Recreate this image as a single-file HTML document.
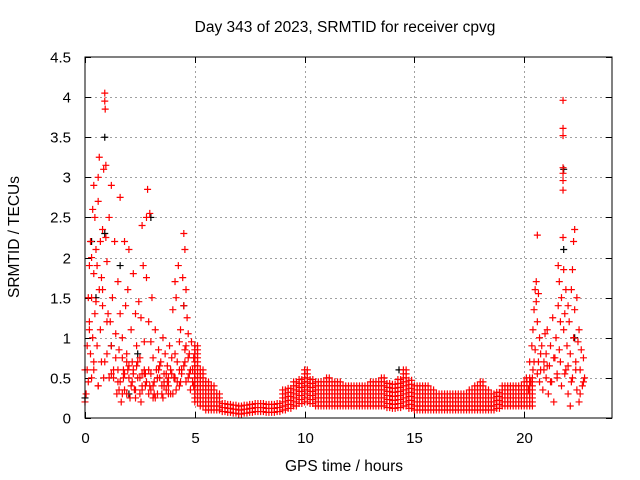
<!DOCTYPE html>
<html><head><meta charset="utf-8"><style>
body{margin:0;background:#fff;}
svg{display:block;font-family:"Liberation Sans",sans-serif;}
</style></head><body>
<svg id="chart" width="640" height="480">
<rect x="0" y="0" width="640" height="480" fill="#fff"/>
<text x="345" y="32" font-size="15.5" text-anchor="middle">Day 343 of 2023, SRMTID for receiver cpvg</text>
<text x="344" y="471" font-size="15.5" text-anchor="middle">GPS time / hours</text>
<text x="19" y="237" font-size="15.5" text-anchor="middle" transform="rotate(-90 19 237)">SRMTID / TECUs</text>
<g id="grid"></g><g id="ticks"></g><g id="marks"></g>
<rect x="85" y="57" width="527" height="361" fill="none" stroke="#000" stroke-width="1"/>
</svg>
<script>
const xTicks=[0,5,10,15,20];
const yTicks=[0,0.5,1,1.5,2,2.5,3,3.5,4,4.5];
const yTickLabels=["0","0.5","1","1.5","2","2.5","3","3.5","4","4.5"];
const redT=[0.05,0.1,0.1,0.15,0.15,0.2,0.2,0.25,0.25,0.3,0.3,0.35,0.35,0.4,0.4,0.4,0.45,0.45,0.5,0.5,0.55,0.55,0.6,0.6,0.65,0.65,0.7,0.7,0.75,0.75,0.8,0.8,0.85,0.85,0.9,0.9,0.92,0.95,0.95,1.0,1.0,1.05,1.1,1.1,1.15,1.2,1.2,1.25,1.3,1.35,1.4,1.45,1.5,1.5,1.55,1.6,1.6,1.65,1.7,1.75,1.8,1.8,1.85,1.9,1.95,2.0,2.0,2.05,2.1,2.15,2.2,2.25,2.3,2.35,2.4,2.45,2.5,2.5,2.55,2.6,2.6,2.65,2.7,2.75,2.8,2.8,2.85,2.9,2.9,2.95,3.0,3.0,3.05,3.1,3.15,3.2,3.25,3.3,3.35,3.4,3.45,3.5,3.55,3.6,3.65,3.7,3.75,3.8,3.85,3.9,3.95,4.0,4.05,4.1,4.1,4.15,4.2,4.25,4.3,4.35,4.4,4.45,4.5,4.5,4.55,4.55,4.6,4.6,4.65,4.7,4.7,4.75,4.8,4.85,4.9,4.95,5.0,
0.0,0.0,0.3,0.6,0.9,1.3,1.7,2.2,2.6,3.3,3.8,4.3,1.9,2.3,2.7,3.1,3.6,
1.5,1.6,1.7,1.8,1.9,2.0,2.1,2.2,2.3,2.4,2.5,2.6,2.7,2.8,2.9,3.0,3.1,3.2,3.3,3.4,3.5,3.6,3.7,3.8,3.9,4.0,4.1,4.2,4.3,4.4,4.5,4.6,4.7,4.8,4.9,
1.55,1.75,1.95,2.15,2.35,2.55,2.75,2.95,3.15,3.35,3.55,3.75,3.95,4.15,4.35,4.55,4.75,4.95,0.2,0.4,0.6,0.8,1.0,1.2,1.4,
20.0,20.1,20.2,20.25,20.3,20.35,20.4,20.4,20.45,20.5,20.5,20.55,20.55,20.6,20.6,20.65,20.65,20.7,20.7,20.75,20.8,20.85,20.9,20.95,21.0,21.0,21.05,21.1,21.15,21.2,21.25,21.3,21.35,21.4,21.45,21.5,21.55,21.55,21.6,21.6,21.65,21.7,21.7,21.77,21.77,21.77,21.77,21.77,21.77,21.77,21.77,21.8,21.8,21.85,21.9,21.9,21.95,22.0,22.0,22.05,22.1,22.1,22.15,22.2,22.2,22.25,22.25,22.3,22.3,22.35,22.4,22.4,22.45,22.5,22.5,22.55,22.6,22.65,22.7,22.75,
20.45,20.6,20.75,20.9,21.05,21.2,21.35,21.5,21.65,21.85,22.0,22.15,22.35,22.55,22.7];
const redV=[0.3,0.6,0.9,1.5,0.45,1.9,1.2,2.2,0.8,2.0,1.5,2.6,1.0,2.9,1.8,0.6,2.5,1.3,2.1,1.45,1.9,0.9,2.7,3.0,3.25,1.6,2.2,1.1,1.75,0.7,2.35,1.4,3.1,0.5,4.05,3.95,3.85,3.15,2.25,1.95,0.8,1.3,2.5,0.5,1.2,2.9,0.9,1.5,0.6,2.2,1.05,0.3,1.7,0.45,0.85,2.75,1.3,0.2,1.0,0.6,2.2,0.35,1.4,0.8,1.6,0.5,2.1,0.25,1.1,0.7,1.8,0.35,1.3,0.9,0.5,1.45,0.3,0.75,1.25,2.4,0.55,1.9,0.95,0.4,1.75,2.5,2.85,1.2,0.6,2.55,0.95,0.35,1.5,0.75,0.45,1.1,0.6,0.3,0.85,0.5,0.7,0.4,1.0,0.55,0.8,0.35,0.65,0.5,0.9,0.3,0.75,1.35,0.5,1.7,0.8,1.5,0.45,1.9,0.95,1.1,0.6,1.75,2.3,1.4,2.1,0.7,1.6,0.9,1.25,0.5,1.05,0.8,0.6,0.95,0.45,0.75,0.55,
0.2,0.6,0.5,0.4,0.7,0.5,0.3,0.6,0.4,0.5,0.3,0.6,0.7,0.35,0.55,0.25,0.4,
0.6,0.45,0.75,0.55,0.3,0.65,0.4,0.55,0.25,0.7,0.5,0.35,0.6,0.45,0.3,0.55,0.4,0.25,0.5,0.65,0.3,0.45,0.55,0.4,0.6,0.3,0.5,0.7,0.4,0.55,0.65,0.45,0.75,0.35,0.6,
0.35,0.5,0.6,0.45,0.65,0.2,0.55,0.4,0.3,0.6,0.25,0.45,0.55,0.35,0.45,0.85,0.55,0.4,1.1,0.7,0.4,1.6,1.2,0.55,0.75,
0.3,0.5,0.35,0.7,0.45,0.9,1.1,0.6,1.35,1.6,0.85,1.7,1.45,1.2,2.28,1.55,0.7,1.0,0.45,0.6,0.9,0.35,0.7,1.05,0.5,0.8,1.1,0.3,0.65,0.9,0.45,1.25,0.2,0.75,1.0,0.55,1.9,1.4,1.7,0.85,1.2,0.4,1.5,3.96,3.61,3.52,3.12,3.05,2.96,2.84,2.25,1.85,1.1,1.3,0.6,1.6,0.9,1.4,0.3,1.2,0.8,0.15,1.6,0.5,1.85,1.0,2.2,2.35,1.35,0.7,1.5,0.35,0.95,1.1,0.2,0.6,0.85,0.4,0.75,0.5,
0.7,0.55,0.8,0.6,0.65,0.45,0.75,0.5,0.7,0.55,0.65,0.45,0.6,0.3,0.45];
const blackT=[0.0,0.3,0.9,0.9,1.2,2.0,4.5,21.8,21.8,14.3,18.5,22.3,1.6,3.0,0.5,2.4];
const blackV=[0.25,2.2,3.5,2.3,0.9,0.3,1.4,3.1,2.1,0.6,0.15,1.0,1.9,2.5,1.5,0.8];
const bandT=[5.0,5.25,5.5,5.75,6.0,6.25,6.5,6.75,7.0,7.25,7.5,7.75,8.0,8.25,8.5,8.75,9.0,9.25,9.5,9.75,10.0,10.25,10.5,10.75,11.0,11.25,11.5,11.75,12.0,12.25,12.5,12.75,13.0,13.25,13.5,13.75,14.0,14.25,14.5,14.75,15.0,15.25,15.5,15.75,16.0,16.25,16.5,16.75,17.0,17.25,17.5,17.75,18.0,18.25,18.5,18.75,19.0,19.25,19.5,19.75,20.0,20.25];
const bandLo=[0.2,0.15,0.1,0.1,0.1,0.08,0.07,0.06,0.05,0.06,0.07,0.08,0.08,0.07,0.07,0.08,0.1,0.12,0.15,0.18,0.2,0.18,0.15,0.15,0.15,0.15,0.15,0.15,0.15,0.15,0.15,0.15,0.15,0.15,0.15,0.13,0.12,0.13,0.15,0.12,0.1,0.1,0.1,0.1,0.1,0.1,0.1,0.1,0.1,0.1,0.1,0.1,0.1,0.1,0.1,0.12,0.15,0.15,0.15,0.15,0.15,0.15];
const bandHi=[0.9,0.6,0.45,0.4,0.3,0.22,0.2,0.18,0.17,0.18,0.2,0.19,0.18,0.17,0.17,0.22,0.35,0.4,0.45,0.52,0.6,0.5,0.45,0.48,0.5,0.47,0.45,0.42,0.4,0.42,0.4,0.43,0.45,0.48,0.5,0.47,0.45,0.5,0.6,0.5,0.4,0.42,0.4,0.35,0.3,0.32,0.3,0.3,0.3,0.32,0.35,0.4,0.45,0.35,0.3,0.35,0.4,0.4,0.4,0.42,0.45,0.5];

const NS="http://www.w3.org/2000/svg";
const X0=85,X1=612,Y0=418,Y1=57,XMAX=24,YMAX=4.5;
function xs(t){return X0+(X1-X0)*t/XMAX;}
function ys(v){return Y0-(Y0-Y1)*v/YMAX;}
const grid=document.getElementById('grid'),ticks=document.getElementById('ticks'),marks=document.getElementById('marks');
function line(p,x1,y1,x2,y2,st,dash){const l=document.createElementNS(NS,'line');l.setAttribute('x1',x1);l.setAttribute('y1',y1);l.setAttribute('x2',x2);l.setAttribute('y2',y2);l.setAttribute('stroke',st);if(dash)l.setAttribute('stroke-dasharray',dash);p.appendChild(l);return l;}
function txt(p,x,y,s,anchor){const t=document.createElementNS(NS,'text');t.setAttribute('x',x);t.setAttribute('y',y);t.setAttribute('font-size','15');t.setAttribute('text-anchor',anchor);t.textContent=s;p.appendChild(t);return t;}
xTicks.forEach(t=>{const x=Math.round(xs(t))+0.5;
 if(t>0){const g=line(grid,x,Y0,x,Y1,'#a0a0a0','2,3');}
 const k=line(ticks,x,Y0,x,Y0-6,'#000');
 const k2=line(ticks,x,Y1,x,Y1+6,'#000');
 const l=txt(ticks,x,Y0+25,String(t),'middle');});
yTicks.forEach((v,i)=>{const y=Math.round(ys(v))+0.5;
 if(v>0&&v<YMAX){const g=line(grid,X0,y,X1,y,'#a0a0a0','2,3');}
 const k=line(ticks,X0,y,X0+6,y,'#000');
 const k2=line(ticks,X1,y,X1-6,y,'#000');
 const l=txt(ticks,X0-14,y+5,yTickLabels[i],'end');});
function plus(t,v,col){const x=xs(t),y=ys(v);const p=document.createElementNS(NS,'path');
 p.setAttribute('d','M'+(x-3.5)+' '+y+'H'+(x+3.5)+'M'+x+' '+(y-3.5)+'V'+(y+3.5));
 p.setAttribute('stroke',col);p.setAttribute('stroke-width','1.2');p.setAttribute('fill','none');marks.appendChild(p);return p;}
blackT.forEach((t,i)=>{const p=plus(t,blackV[i],'#000');
 
 });
bandT.forEach((t,i)=>{for(let v=bandLo[i];v<=bandHi[i]+1e-9;v+=0.05){for(let d=0;d<0.25;d+=0.125){const p=plus(t+d,v,'#ff0000');
 
 }}});
redT.forEach((t,i)=>{const p=plus(t,redV[i],'#ff0000');
 
 });
</script>
</body></html>
